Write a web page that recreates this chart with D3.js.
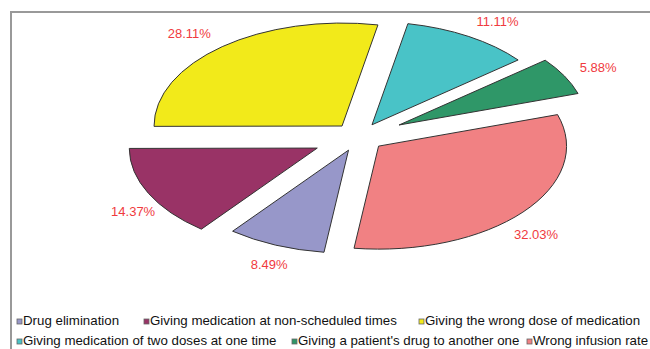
<!DOCTYPE html>
<html>
<head>
<meta charset="utf-8">
<script src="https://cdn.jsdelivr.net/npm/d3@7/dist/d3.min.js"></script>
<style>
  body { margin: 0; background: #fff; }
  svg { display: block; font-family: "Liberation Sans", Arial, sans-serif; }
</style>
</head>
<body>
<div id="chart"></div>
<script>
// data
var categories = [
    'Drug elimination',
    'Giving medication at non-scheduled times',
    'Giving the wrong dose of medication',
    'Giving medication of two doses at one time',
    "Giving a patient's drug to another one",
    'Wrong infusion rate'
];
var percents = [8.49, 14.37, 28.11, 11.11, 5.88, 32.03];
var colors = ['#9797c9', '#993366', '#f2ea1a', '#49c3c7', '#2f9768', '#f18183'];

var width  = 650;
var height = 349;

// pie geometry (flattened, exploded)
var cx = 358.6, cy = 137;
var rx = 188, ry = 103;
var squash = ry / rx;
var startDeg = 187.5;

var svg = d3.select('#chart')
    .append('svg')
    .attr('width', width)
    .attr('height', height);

// frame lines
svg.append('path')
    .attr('d', 'M11,' + height + 'V12H' + width)
    .attr('fill', 'none')
    .attr('stroke', '#999')
    .attr('stroke-width', 2);

var pie = d3.pie()
    .sort(null)
    .value(function(d){ return d; })
    .startAngle(startDeg * Math.PI / 180)
    .endAngle(startDeg * Math.PI / 180 + 2 * Math.PI);

var arc = d3.arc().innerRadius(0).outerRadius(rx);

var slices = pie(percents);

function explodeOf(i){
    // two slices are pulled out further
    return (i === 1 || i === 4) ? 46 : 26;
}

function sliceCenter(d){
    var m = (d.startAngle + d.endAngle) / 2;
    var e = explodeOf(d.index);
    return [cx + e * Math.sin(m), cy - e * squash * Math.cos(m)];
}

// label radii: upper labels sit wider, lower ones lower
function labelPos(d){
    var m = (d.startAngle + d.endAngle) / 2;
    var s = Math.sin(m), c = Math.cos(m);
    var lx = c > 0 ? 205 + 45 * c : 205;
    var ly = c > 0 ? 120 : 110 + 37 * Math.abs(s);
    var p = sliceCenter(d);
    return [p[0] + lx * s, p[1] - ly * c];
}

svg.selectAll('path.slice')
    .data(slices)
    .enter()
    .append('path')
    .attr('class', 'slice')
    .attr('d', arc)
    .attr('transform', function(d){
        var c = sliceCenter(d);
        return 'translate(' + c[0] + ',' + c[1] + ') scale(1,' + squash + ')';
    })
    .attr('fill', function(d, i){ return colors[i]; })
    .attr('stroke', '#333')
    .attr('stroke-width', 1)
    .attr('vector-effect', 'non-scaling-stroke');

svg.selectAll('text.lbl')
    .data(slices)
    .enter()
    .append('text')
    .attr('class', 'lbl')
    .attr('x', function(d){ return labelPos(d)[0]; })
    .attr('y', function(d){ return labelPos(d)[1]; })
    .attr('dy', '0.35em')
    .attr('text-anchor', 'middle')
    .attr('fill', '#f03a3e')
    .style('font-size', '13px')
    .text(function(d){ return d.data.toFixed(2) + '%'; });

// legend
var legendPos = [[17, 325], [144, 325], [419, 325], [17, 345], [292, 345], [527, 345]];
var legend = svg.selectAll('g.legend')
    .data(categories)
    .enter()
    .append('g')
    .attr('class', 'legend')
    .attr('transform', function(d, i){
        return 'translate(' + legendPos[i][0] + ',' + legendPos[i][1] + ')';
    });

legend.append('rect')
    .attr('x', 0)
    .attr('y', -6)
    .attr('width', 5)
    .attr('height', 5)
    .attr('fill', function(d, i){ return colors[i]; })
    .attr('stroke', '#666')
    .attr('stroke-width', 0.8);

legend.append('text')
    .attr('x', 6)
    .attr('y', 0)
    .attr('fill', '#111')
    .style('font-size', '13.3px')
    .text(function(d){ return d; });
</script>
</body>
</html>
